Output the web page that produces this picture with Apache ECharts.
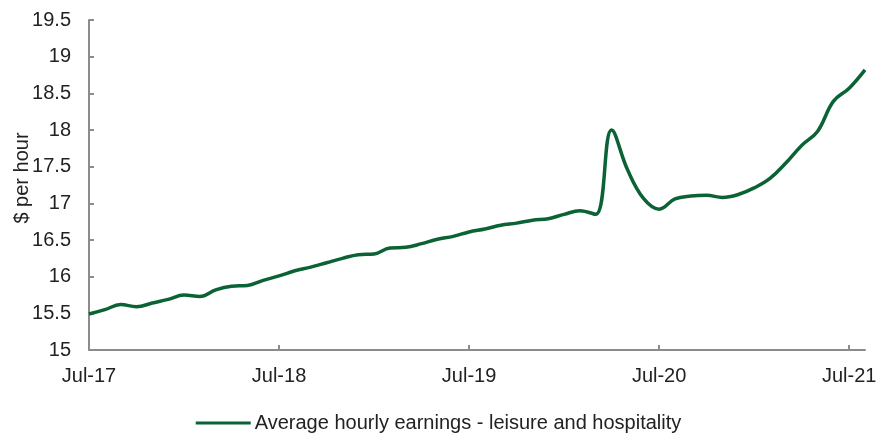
<!DOCTYPE html>
<html>
<head>
<meta charset="utf-8">
<script src="https://cdn.jsdelivr.net/npm/echarts@6/dist/echarts.min.js"></script>
<style>
  html, body { margin: 0; padding: 0; background: #ffffff; }
  #chart { width: 877px; height: 435px; }
</style>
</head>
<body>
<div id="chart"></div>
<script>
// Monthly average hourly earnings, leisure and hospitality ($ per hour), Jul-17 to Aug-21
const months = [
  'Jul-17','Aug-17','Sep-17','Oct-17','Nov-17','Dec-17','Jan-18','Feb-18','Mar-18','Apr-18','May-18','Jun-18',
  'Jul-18','Aug-18','Sep-18','Oct-18','Nov-18','Dec-18','Jan-19','Feb-19','Mar-19','Apr-19','May-19','Jun-19',
  'Jul-19','Aug-19','Sep-19','Oct-19','Nov-19','Dec-19','Jan-20','Feb-20','Mar-20','Apr-20','May-20','Jun-20',
  'Jul-20','Aug-20','Sep-20','Oct-20','Nov-20','Dec-20','Jan-21','Feb-21','Mar-21','Apr-21','May-21','Jun-21',
  'Jul-21','Aug-21'
];
const earnings = [
  15.49, 15.55, 15.62, 15.59, 15.64, 15.69, 15.75, 15.73, 15.82, 15.87, 15.88, 15.95,
  16.01, 16.08, 16.13, 16.19, 16.25, 16.30, 16.31, 16.39, 16.40, 16.45, 16.51, 16.55,
  16.61, 16.65, 16.70, 16.73, 16.77, 16.79, 16.85, 16.90, 16.85, 18.00, 17.46, 17.07,
  16.92, 17.06, 17.10, 17.11, 17.08, 17.12, 17.21, 17.34, 17.55, 17.79, 17.98, 18.39,
  18.57, 18.82
];
const seriesName = 'Average hourly earnings - leisure and hospitality';
const yAxisName = '$ per hour';
const yMin = 15, yMax = 19.5, yStep = 0.5;

const font = '"Liberation Sans", Arial, sans-serif';
const axisGrey = '#8c8c8c';
const lineGreen = '#0b6335';

const chart = echarts.init(document.getElementById('chart'), null, { renderer: 'canvas' });
chart.setOption({
  animation: false,
  backgroundColor: '#ffffff',
  textStyle: { fontFamily: font },
  grid: { left: 89, right: 12, top: 20, bottom: 85, containLabel: false, outerBoundsMode: 'none' },
  legend: {
    top: 408,
    left: 'center',
    icon: 'rect',
    itemWidth: 55,
    itemHeight: 3,
    itemGap: 10,
    textStyle: { fontFamily: font, fontSize: 20, color: '#222222', padding: [0, 0, 0, -1] },
    data: [seriesName]
  },
  xAxis: {
    type: 'category',
    data: months,
    boundaryGap: false,
    axisLine: { lineStyle: { color: axisGrey, width: 2 } },
    axisTick: {
      inside: true,
      length: 5,
      interval: (i) => i % 12 === 0,
      lineStyle: { color: axisGrey, width: 2 }
    },
    axisLabel: {
      interval: (i) => i % 12 === 0,
      margin: 16,
      fontFamily: font,
      fontSize: 20,
      color: '#222222'
    },
    splitLine: { show: false }
  },
  yAxis: {
    type: 'value',
    min: yMin,
    max: yMax,
    interval: yStep,
    name: yAxisName,
    nameLocation: 'middle',
    nameGap: 57,
    nameMoveOverlap: false,
    nameTextStyle: { fontFamily: font, fontSize: 20, color: '#222222', padding: [0, 0, 0, 14] },
    axisLine: { show: true, lineStyle: { color: axisGrey, width: 2 } },
    axisTick: { show: true, inside: true, length: 5, lineStyle: { color: axisGrey, width: 2 } },
    axisLabel: { margin: 18, fontFamily: font, fontSize: 20, color: '#222222' },
    splitLine: { show: false }
  },
  series: [{
    name: seriesName,
    type: 'line',
    data: earnings,
    smooth: 0.4,
    showSymbol: false,
    symbol: 'none',
    lineStyle: { color: lineGreen, width: 3.5 },
    itemStyle: { color: lineGreen }
  }]
});
</script>
</body>
</html>
